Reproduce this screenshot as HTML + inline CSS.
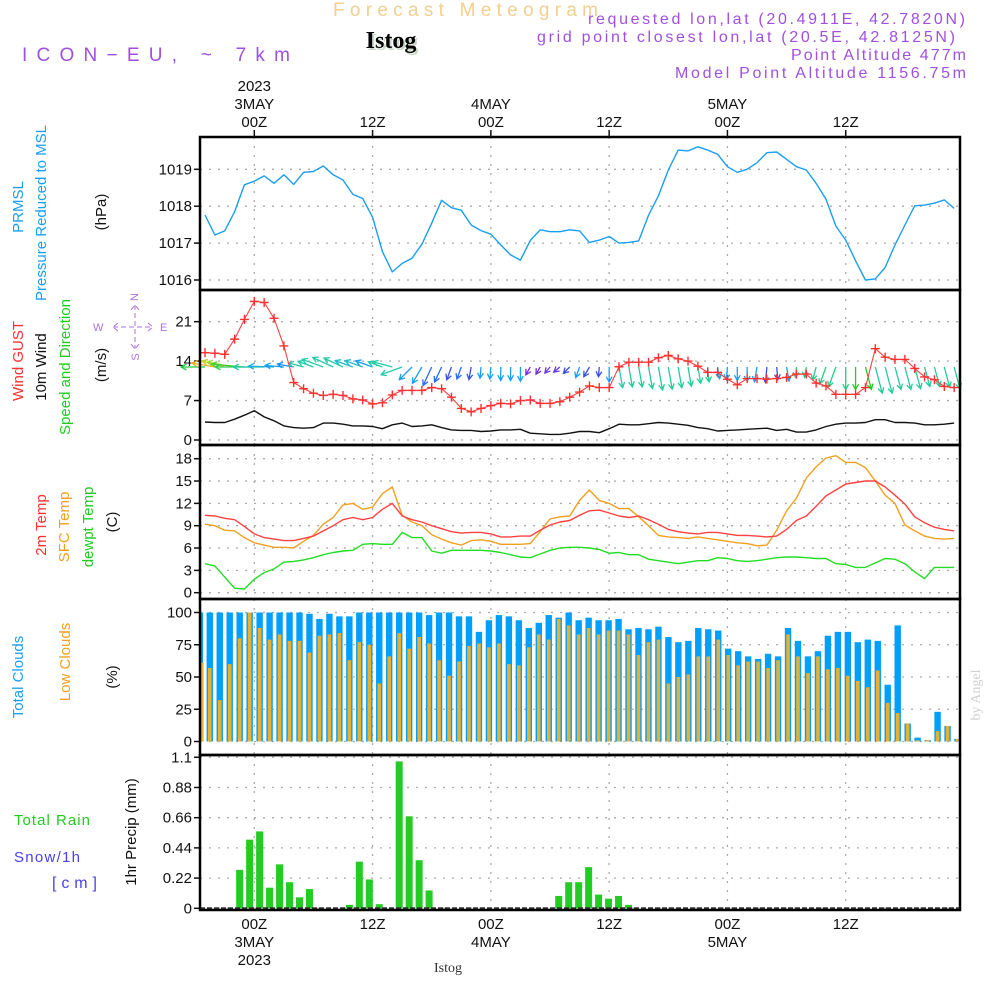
<!DOCTYPE html>
<html><head><meta charset="utf-8">
<style>
html,body{margin:0;padding:0;background:#fff;}
svg{display:block;font-family:"Liberation Sans",sans-serif;}
.tk{font-size:15px;fill:#111;}
.pl{font-size:16px;fill:#a050e0;}
</style></head>
<body>
<svg id="chart" width="1000" height="1000" viewBox="0 0 1000 1000" xmlns="http://www.w3.org/2000/svg">
<rect x="0" y="0" width="1000" height="1000" fill="#fff"/>
<text x="333" y="16" font-size="19" fill="#f3cf90" textLength="265" lengthAdjust="spacing">Forecast Meteogram</text>
<text x="393" y="50" text-anchor="middle" font-family="Liberation Serif,serif" font-weight="bold" font-size="24" fill="#c9d8c9">Istog</text>
<text x="391" y="48" text-anchor="middle" font-family="Liberation Serif,serif" font-weight="bold" font-size="24" fill="#000">Istog</text>
<text x="22" y="61" font-size="19" fill="#a050e0" textLength="268" lengthAdjust="spacing">ICON−EU, ~ 7km</text>
<text class="pl" x="588" y="24" textLength="377" lengthAdjust="spacing">requested lon,lat (20.4911E, 42.7820N)</text>
<text class="pl" x="537" y="42" textLength="418" lengthAdjust="spacing">grid point closest lon,lat (20.5E, 42.8125N)</text>
<text class="pl" x="791" y="60" textLength="175" lengthAdjust="spacing">Point Altitude 477m</text>
<text class="pl" x="675" y="78" textLength="291" lengthAdjust="spacing">Model Point Altitude 1156.75m</text>

<g font-size="15">
<text transform="translate(23,207) rotate(-90)" text-anchor="middle" fill="#1a9ff0">PRMSL</text>
<text transform="translate(46,213) rotate(-90)" text-anchor="middle" fill="#1a9ff0">Pressure Reduced to MSL</text>
<text transform="translate(106,212) rotate(-90)" text-anchor="middle" fill="#111">(hPa)</text>
<text transform="translate(23,361) rotate(-90)" text-anchor="middle" fill="#ff3030">Wind GUST</text>
<text transform="translate(46,367) rotate(-90)" text-anchor="middle" fill="#111">10m Wind</text>
<text transform="translate(70,367) rotate(-90)" text-anchor="middle" fill="#22cc22">Speed and Direction</text>
<text transform="translate(106,365) rotate(-90)" text-anchor="middle" fill="#111">(m/s)</text>
<text transform="translate(46,525) rotate(-90)" text-anchor="middle" fill="#ff3030">2m Temp</text>
<text transform="translate(69,527) rotate(-90)" text-anchor="middle" fill="#f0a020">SFC Temp</text>
<text transform="translate(93,527) rotate(-90)" text-anchor="middle" fill="#22cc22">dewpt Temp</text>
<text transform="translate(117,522) rotate(-90)" text-anchor="middle" fill="#111">(C)</text>
<text transform="translate(23,677) rotate(-90)" text-anchor="middle" fill="#1a9ff0">Total Clouds</text>
<text transform="translate(70,662) rotate(-90)" text-anchor="middle" fill="#f0a020">Low Clouds</text>
<text transform="translate(117,677) rotate(-90)" text-anchor="middle" fill="#111">(%)</text>
<text x="14" y="825" fill="#22cc22" textLength="76" lengthAdjust="spacing">Total  Rain</text>
<text x="14" y="862" fill="#4a40f0" textLength="66" lengthAdjust="spacing">Snow/1h</text>
<text x="52" y="888" fill="#4a40f0" font-size="16" textLength="45" lengthAdjust="spacing">[cm]</text>
<text transform="translate(136,832) rotate(-90)" text-anchor="middle" fill="#111">1hr Precip (mm)</text>
<text transform="translate(980,695) rotate(-90)" text-anchor="middle" font-family="Liberation Serif,serif" font-size="14" fill="#d0d0d0">by Angel</text>
</g>
<g fill="#b070e0" font-size="11">
<text x="135" y="300" text-anchor="middle" transform="rotate(-90 135 297)">N</text>
<text x="93" y="331">W</text>
<text x="160" y="331">E</text>
<text x="135" y="361" text-anchor="middle" transform="rotate(-90 135 357)">S</text>
<path d="M113,327h40M118,323l-5,4l5,4M148,323l5,4l-5,4M135,305v44M131,310l4,-5l4,5M131,344l4,5l4,-5" fill="none" stroke="#b070e0" stroke-dasharray="5,3"/>
</g>
<g id="plot"></g>
</svg>
<script>
const hours = Array.from({length:77},(_,i)=>i-5);
const pressure = [1017.76,1017.22,1017.33,1017.85,1018.58,1018.68,1018.82,1018.62,1018.85,1018.59,1018.92,1018.94,1019.09,1018.85,1018.71,1018.32,1018.21,1017.70,1016.77,1016.22,1016.45,1016.59,1016.97,1017.54,1018.16,1017.96,1017.89,1017.49,1017.34,1017.24,1016.95,1016.68,1016.54,1017.07,1017.36,1017.31,1017.31,1017.36,1017.33,1017.02,1017.08,1017.18,1017.0,1017.02,1017.06,1017.76,1018.28,1018.98,1019.52,1019.50,1019.61,1019.52,1019.41,1019.07,1018.92,1019.0,1019.18,1019.45,1019.47,1019.27,1019.07,1018.98,1018.62,1018.19,1017.46,1017.08,1016.52,1016.0,1016.03,1016.34,1016.95,1017.49,1018.01,1018.03,1018.08,1018.17,1017.94];
const gust = [15.5,15.4,15.2,17.9,21.4,24.6,24.4,21.6,16.7,10.2,9.1,8.3,7.9,8.1,7.9,7.3,7.1,6.4,6.6,8.0,8.8,8.8,8.8,9.3,9.1,7.6,5.6,5.0,5.6,6.1,6.5,6.4,7.0,7.1,6.5,6.5,6.8,7.6,8.5,9.6,9.3,9.3,13.0,13.8,13.8,13.8,14.6,15.0,14.4,14.0,13.1,12.0,12.0,10.8,9.8,10.9,10.9,10.8,10.9,11.1,11.7,11.7,10.1,9.6,8.1,8.1,8.1,9.3,16.2,14.7,14.3,14.3,12.7,11.2,10.7,9.5,9.3];
const windSpeed = [3.2,3.1,3.1,3.7,4.4,5.2,4.1,3.4,2.5,2.2,2.1,2.2,3.0,3.0,2.8,2.5,2.5,2.4,2.0,2.7,3.0,2.4,2.5,2.7,2.2,1.8,1.7,1.7,1.5,1.6,1.8,1.8,1.9,1.2,1.1,1.0,1.0,1.2,1.5,1.5,1.3,2.0,2.8,2.7,2.7,2.9,3.1,3.0,2.8,2.6,2.2,2.0,1.6,1.7,1.8,1.9,2.0,2.1,1.7,1.9,1.4,1.4,1.8,2.4,2.8,3.0,3.0,3.1,3.6,3.6,3.1,3.1,3.0,2.7,2.7,2.8,3.0];
const windDir = [180,190,195,190,185,180,180,182,185,190,195,200,200,205,205,200,200,200,200,195,160,135,120,115,115,110,110,100,95,95,90,90,90,120,120,130,140,135,110,120,95,90,80,80,80,80,80,80,80,80,80,85,80,95,90,90,100,95,85,80,95,100,105,110,110,90,90,75,75,75,75,75,75,75,75,75,75];
const windColor = ['#22cc44','#e8b020','#c8d020','#a0d830','#44cc33','#33cc55','#22ccaa','#22aadd','#1a9ff0','#1a8ff0','#22ccaa','#22ccaa','#22ccaa','#22ccaa','#22ccaa','#22bbcc','#22bbcc','#1a9ff0','#22ccaa','#22ccaa','#22ccaa','#1a9ff0','#1a9ff0','#2a6af0','#2a6af0','#3a50e0','#2a6af0','#3a50e0','#1a9ff0','#1a9ff0','#1a9ff0','#1a9ff0','#1a9ff0','#7a30e0','#7a30e0','#6a3ae0','#6a3ae0','#3a50e0','#1a9ff0','#3a50e0','#3a50e0','#1a9ff0','#22ccaa','#22cc99','#22cc99','#22cc99','#22cc99','#22cc99','#22cc99','#22cc99','#22cc99','#22cc99','#1a9ff0','#1a9ff0','#1a9ff0','#1a9ff0','#1a9ff0','#3a50e0','#3a50e0','#1a9ff0','#22ccaa','#22cc88','#22cc88','#22cc88','#22cc88','#22cc88','#22cc22','#22cc22','#22cc99','#22cc99','#22cc99','#22cc99','#22cc99','#22cc99','#22cc99','#22cc99','#22cc99'];
const temp2m = [10.4,10.3,10.0,9.8,8.9,7.9,7.4,7.2,7.0,7.0,7.3,7.6,8.3,9.0,9.8,10.1,9.8,10.1,11.2,12.0,10.3,9.8,9.5,9.0,8.6,8.2,8.0,8.1,8.1,7.9,7.5,7.5,7.6,7.6,8.4,9.1,9.5,9.7,10.4,11.0,11.1,10.7,10.3,10.1,10.3,9.8,9.2,8.5,8.2,8.0,7.9,8.1,8.1,7.9,7.7,7.7,7.6,7.5,7.6,8.5,9.7,10.3,11.6,13.0,13.8,14.6,14.8,15.0,15.0,14.2,13.1,11.9,10.2,9.4,8.8,8.5,8.3];
const tempSfc = [9.2,9.0,8.4,8.3,7.4,6.7,6.4,6.1,6.1,6.0,6.9,7.7,9.2,10.1,11.8,12.0,11.2,11.5,13.3,14.2,10.4,9.5,9.0,7.8,7.2,6.7,6.4,7.0,7.1,6.9,6.5,6.5,6.5,6.6,8.2,9.9,10.2,10.3,12.4,13.8,12.4,12.0,11.3,11.3,10.2,9.0,7.7,7.5,7.4,7.3,7.5,7.3,7.1,6.9,6.7,6.6,6.3,6.4,8.4,11.0,12.7,15.4,16.9,18.1,18.4,17.5,17.5,16.8,15.0,13.1,12.0,9.1,8.3,7.6,7.3,7.2,7.3];
const dewpt = [3.9,3.6,2.1,0.6,0.5,1.8,2.7,3.2,4.1,4.2,4.4,4.7,5.1,5.4,5.6,5.7,6.5,6.6,6.5,6.5,8.1,7.4,7.4,5.6,5.3,5.7,5.7,5.7,5.7,5.6,5.4,5.1,4.8,4.7,5.2,5.7,6.0,6.1,6.1,6.0,5.8,5.3,5.4,5.1,5.1,4.5,4.3,4.1,3.9,4.1,4.3,4.3,4.7,4.6,4.3,4.2,4.3,4.5,4.7,4.8,4.8,4.7,4.6,4.6,3.9,3.8,3.4,3.4,4.0,4.6,4.5,3.9,2.8,1.9,3.4,3.4,3.4];
const totalClouds = [100,100,100,100,100,100,100,100,100,100,100,99,95,99,97,97,100,100,100,100,100,100,100,98,100,100,97,97,85,94,98,97,94,88,92,98,96,100,94,96,94,94,95,87,88,87,89,81,77,78,88,87,86,72,70,66,64,68,66,88,78,66,70,82,85,85,77,79,78,44,90,14,3,1,23,12,2];
const lowClouds = [61,57,32,60,80,100,88,79,83,78,78,69,82,83,84,63,77,75,45,66,84,72,81,76,63,51,62,74,76,73,76,60,59,73,83,79,95,90,83,88,83,86,86,83,67,77,79,45,50,52,66,66,79,67,59,62,62,57,63,83,66,53,66,56,57,51,47,42,55,30,22,14,1,1,8,12,2];
const precip = [0,0,0,0,0.28,0.50,0.56,0.15,0.32,0.19,0.08,0.14,0,0,0,0.025,0.34,0.21,0.03,0,1.07,0.67,0.35,0.13,0,0,0,0,0,0,0,0,0,0,0,0,0.09,0.19,0.19,0.30,0.10,0.07,0.09,0.025,0,0,0,0,0,0,0,0,0,0,0,0,0,0,0,0,0,0,0,0,0,0,0,0,0,0,0,0,0,0,0,0,0];
const pressTicks = [1016,1017,1018,1019];
const windTicks = [0,7,14,21];
const tempTicks = [0,3,6,9,12,15,18];
const cloudTicks = [0,25,50,75,100];
const precipTicks = [0,0.22,0.44,0.66,0.88,1.1];
const timeTicks = [0,12,24,36,48,60];
const timeLabels = ['00Z','12Z','00Z','12Z','00Z','12Z'];
const dayLabels = ['3MAY','','4MAY','','5MAY',''];

const L=200,R=960;
const X = h => 254.3 + 9.857*h;
const XB = k => 199.8 + 9.97*k;
const panels = {
 p:{top:137,bot:290,y:v=>169.3+(1019-v)*36.9},
 w:{top:290,bot:445,y:v=>440-v*5.635},
 t:{top:445,bot:599,y:v=>592.7-v*7.444},
 c:{top:599,bot:755,y:v=>741.5-v*1.29},
 r:{top:755,bot:910,y:v=>908.3-v*137.3}
};
const NS='http://www.w3.org/2000/svg';
const plot=document.getElementById('plot');
function mk(tag,attrs,parent){const e=document.createElementNS(NS,tag);for(const k in attrs)e.setAttribute(k,attrs[k]);(parent||plot).appendChild(e);return e;}

function hgrid(p,ticks,fmt,nm){
  ticks.forEach(v=>{const y=p.y(v);
    const g=mk('line',{x1:L,x2:R,y1:y,y2:y,stroke:'#aaa','stroke-dasharray':'2,7','stroke-width':1.3});
    
    
    const t=mk('line',{x1:L-6,x2:L,y1:y,y2:y,stroke:'#111','stroke-width':1.5});
    
    
    const tx=mk('text',{x:L-8,y:y+5,'text-anchor':'end',class:'tk'});tx.textContent=fmt(v);
    
    
  });
}
for(const key in panels){const p=panels[key];
  timeTicks.forEach(h=>{const g=mk('line',{x1:X(h),x2:X(h),y1:p.top,y2:p.bot,stroke:'#aaa','stroke-dasharray':'2,7','stroke-width':1.3});
    
    });
}
hgrid(panels.p,pressTicks,v=>String(v),'pressure-axis');
hgrid(panels.w,windTicks,v=>String(v),'wind-axis');
hgrid(panels.t,tempTicks,v=>String(v),'temp-axis');
hgrid(panels.c,cloudTicks,v=>String(v),'cloud-axis');
hgrid(panels.r,precipTicks,v=>String(v),'precip-axis');

function line(arr,p,color,nm,w){
  const d=arr.map((v,i)=>(i?'L':'M')+X(hours[i]).toFixed(1)+','+p.y(v).toFixed(1)).join('');
  const e=mk('path',{d:d,fill:'none',stroke:color,'stroke-width':w||1.4,'stroke-linejoin':'round'});
  
  
}
totalClouds.forEach((v,k)=>{const p=panels.c;const x=XB(k);
  const b=mk('rect',{x:Math.max(L,x-3.2),y:p.y(v),width:Math.min(6.4,x+3.2-Math.max(L,x-3.2)),height:p.y(0)-p.y(v),fill:'#009ffc'});
  
  });
lowClouds.forEach((v,k)=>{const p=panels.c;const x=XB(k);
  const b=mk('rect',{x:Math.max(L,x-1.8),y:p.y(v),width:3.6,height:p.y(0)-p.y(v),fill:'#e8b030'});
  
  });
precip.forEach((v,k)=>{if(v<=0)return;const p=panels.r;const x=XB(k);
  const b=mk('rect',{x:x-3.5,y:p.y(v),width:7,height:p.y(0)-p.y(v),fill:'#22cc22'});
  
  });
const base=mk('line',{x1:L,x2:R,y1:908.3,y2:908.3,stroke:'#333','stroke-width':2,'stroke-dasharray':'5,2'});



line(pressure,panels.p,'#1a9ff0','pressure-line');
line(tempSfc,panels.t,'#f0a020','sfc-temp-line');
line(temp2m,panels.t,'#ff4040','temp-2m-line');
line(dewpt,panels.t,'#22dd22','dewpt-line');
line(windSpeed,panels.w,'#111','wind-speed-line');
windDir.forEach((a,i)=>{const x0=X(hours[i]),y0=367;const len=Math.max(8,7.5*windSpeed[i]);
  const r=a*Math.PI/180;const x1=x0+len*Math.cos(r),y1=y0+len*Math.sin(r);
  const h1=r+Math.PI-0.5,h2=r+Math.PI+0.5;
  const d=`M${x0},${y0}L${x1},${y1}M${x1+6*Math.cos(h1)},${y1+6*Math.sin(h1)}L${x1},${y1}L${x1+6*Math.cos(h2)},${y1+6*Math.sin(h2)}`;
  const e=mk('path',{d:d,fill:'none',stroke:windColor[i],'stroke-width':1.3});
  
  });
line(gust,panels.w,'#ff4040','gust-line',1.1);
gust.forEach((v,i)=>{const x=X(hours[i]),y=panels.w.y(v);
  const e=mk('path',{d:`M${x-4.5},${y}h9M${x},${y-4.5}v9`,stroke:'#ff3030','stroke-width':1.4});
  
  });

for(const key in panels){const p=panels[key];
  const f=mk('rect',{x:L,y:p.top,width:R-L,height:p.bot-p.top,fill:'none',stroke:'#000','stroke-width':2.5});
  
  }
timeTicks.forEach((h,i)=>{const x=X(h);
  const tt=mk('line',{x1:x,x2:x,y1:130,y2:137,stroke:'#111','stroke-width':1.5});
  
  
  const t=mk('text',{x:x,y:127,'text-anchor':'middle',class:'tk'});t.textContent=timeLabels[i];
  
  
  const b=mk('text',{x:x,y:929,'text-anchor':'middle',class:'tk'});b.textContent=timeLabels[i];
  
  
  if(dayLabels[i]){
    const d=mk('text',{x:x,y:109,'text-anchor':'middle',class:'tk'});d.textContent=dayLabels[i];
    
    
    const d2=mk('text',{x:x,y:947,'text-anchor':'middle',class:'tk'});d2.textContent=dayLabels[i];
    
    
  }
});
const y1=mk('text',{x:X(0),y:91,'text-anchor':'middle',class:'tk'});y1.textContent='2023';


const y2=mk('text',{x:X(0),y:965,'text-anchor':'middle',class:'tk'});y2.textContent='2023';


const st=mk('text',{x:448,y:972,'text-anchor':'middle','font-family':'Liberation Serif,serif','font-size':'14',fill:'#333'});st.textContent='Istog';


</script>
</body></html>
